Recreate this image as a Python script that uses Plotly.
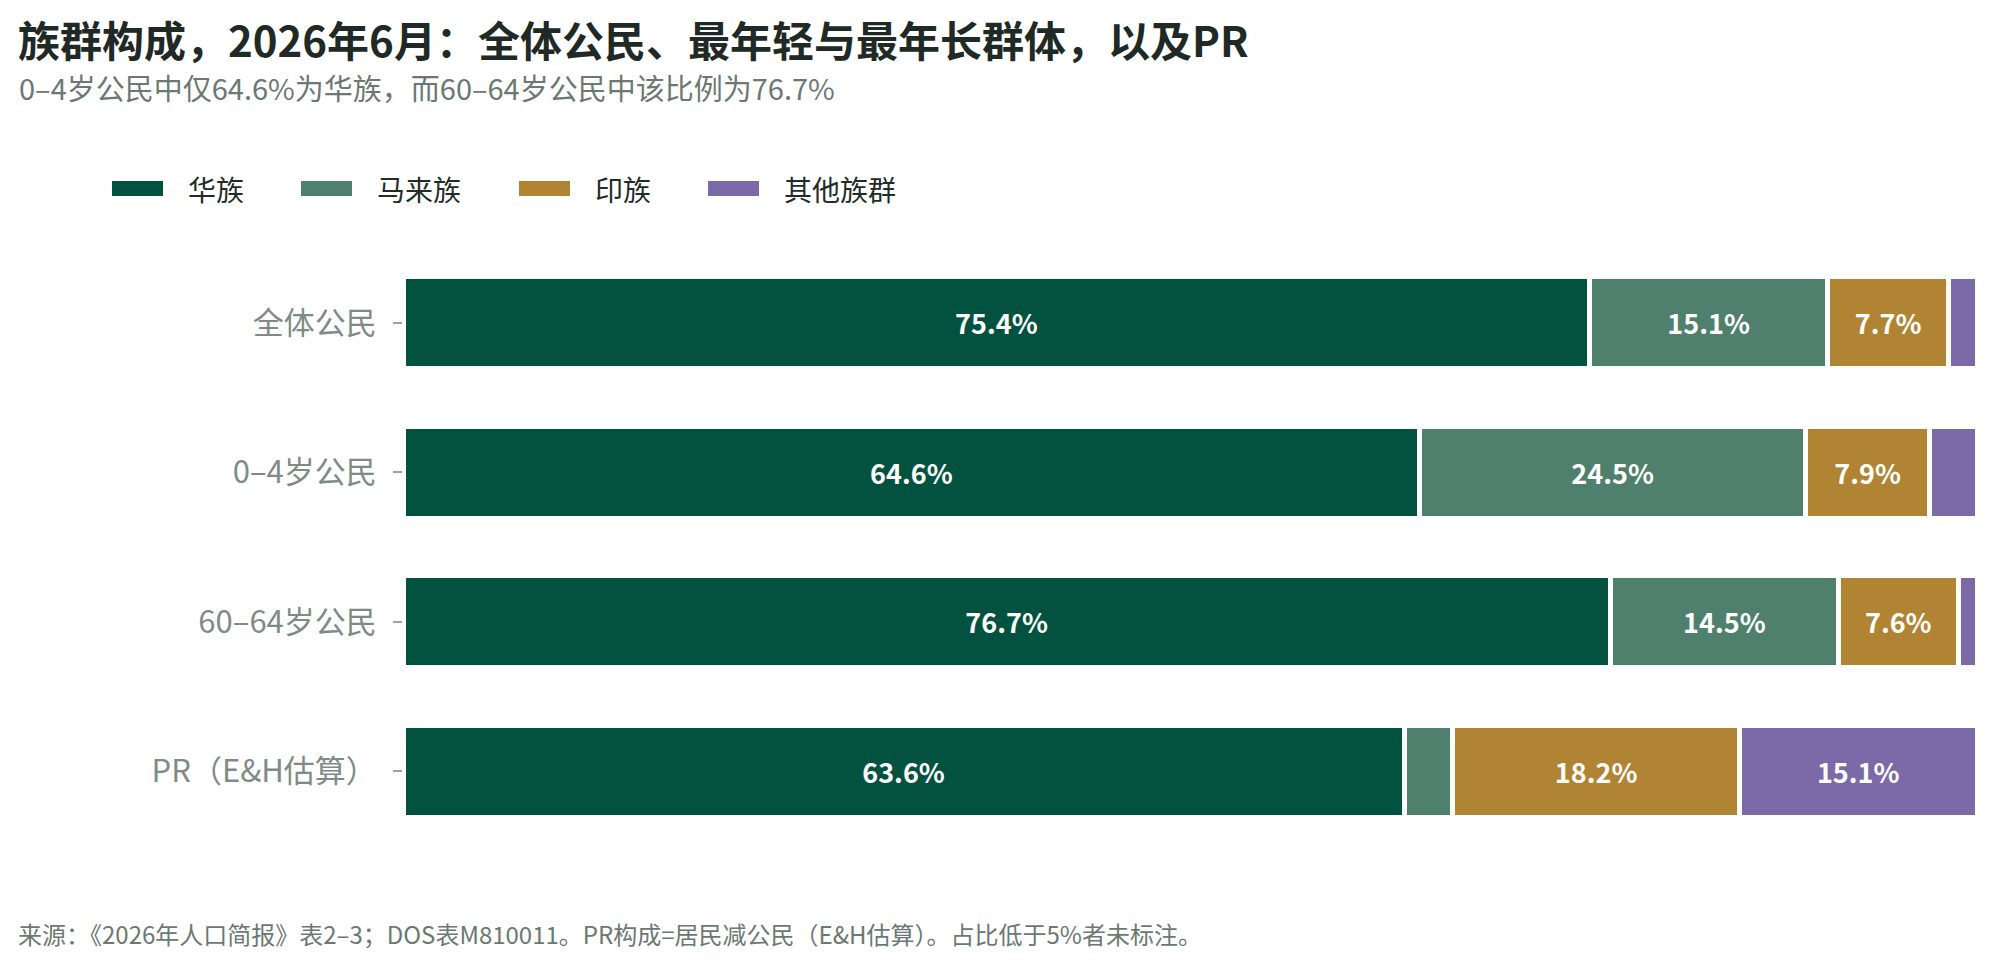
import plotly.graph_objects as go

# data (percent of each group)
groups = ["全体公民", "0–4岁公民", "60–64岁公民", "PR（E&H估算）"]
ethnic = ["华族", "马来族", "印族", "其他族群"]
chinese = [75.4, 64.6, 76.7, 63.6]
malay = [15.1, 24.5, 14.5, 3.1]
indian = [7.7, 7.9, 7.6, 18.2]
others = [1.8, 3.0, 1.2, 15.1]

colors = ["#02523f", "#4f806e", "#b08432", "#7c6aa8"]
FONT = "Noto Sans CJK SC"

# page body has an 8px margin, so the figure is a bit smaller than the window
OFF = 8
W, H = 2000 - 2 * OFF, 960 - 2 * OFF
L, R, T, B = 395, 15, 240, 106


def px_x(px):
    return (px - OFF - L) / (W - L - R)


def px_y(py):
    return (H - B - (py - OFF)) / (H - T - B)


fig = go.Figure()

for name, vals, col in zip(ethnic, [chinese, malay, indian, others], colors):
    labels = [f"{v:.1f}%" if v >= 5 else "" for v in vals]
    fig.add_trace(go.Bar(
        y=groups,
        x=vals,
        name=name,
        orientation="h",
        marker=dict(color=col, line=dict(color="white", width=5)),
        text=labels,
        textposition="inside",
        insidetextanchor="middle",
        textangle=0,
        textfont=dict(family=FONT, size=27, color="white", weight="bold"),
        showlegend=False,
        hoverinfo="skip",
    ))

# legend drawn by hand so the swatches are wide rectangles
legend_x = [112, 301, 519, 708]
shapes = []
annotations = []
for name, col, sx in zip(ethnic, colors, legend_x):
    shapes.append(dict(
        type="rect", xref="paper", yref="paper",
        x0=px_x(sx), x1=px_x(sx + 51), y0=px_y(196), y1=px_y(181),
        fillcolor=col, line=dict(width=0),
    ))
    annotations.append(dict(
        text=name, xref="paper", yref="paper",
        x=px_x(sx + 74), y=px_y(189), xanchor="left", yanchor="middle",
        showarrow=False, font=dict(family=FONT, size=28, color="#222b28"),
    ))

annotations.append(dict(
    text="0–4岁公民中仅64.6%为华族，而60–64岁公民中该比例为76.7%",
    xref="paper", yref="paper", x=px_x(17), y=px_y(87),
    xanchor="left", yanchor="middle", showarrow=False,
    font=dict(family=FONT, size=29, color="#6b7873"),
))
annotations.append(dict(
    text="来源：《2026年人口简报》表2–3；DOS表M810011。PR构成=居民减公民（E&H估算）。占比低于5%者未标注。",
    xref="paper", yref="paper", x=px_x(17), y=px_y(934),
    xanchor="left", yanchor="middle", showarrow=False, borderpad=0,
    font=dict(family=FONT, size=24, color="#6b7873"),
))

fig.update_layout(
    width=W, height=H,
    barmode="stack",
    bargap=0.387,
    plot_bgcolor="white",
    paper_bgcolor="white",
    margin=dict(l=L, r=R, t=T, b=B),
    font=dict(family=FONT),
    title=dict(
        text="<b>族群构成，2026年6月：全体公民、最年轻与最年长群体，以及PR</b>",
        xref="container", x=10 / W, xanchor="left",
        yref="container", y=1 - 34 / H, yanchor="middle",
        font=dict(family=FONT, size=42, color="#1f2925"),
    ),
    xaxis=dict(range=[0, 100], visible=False, fixedrange=True),
    yaxis=dict(
        categoryorder="array", categoryarray=groups, autorange="reversed",
        ticks="outside", ticklen=9, tickcolor="#9aa5a1", tickwidth=1.5,
        ticklabelstandoff=10, showgrid=False, zeroline=False, showline=False,
        tickfont=dict(family=FONT, size=31, color="#7f8b86"),
    ),
    shapes=shapes,
    annotations=annotations,
    uniformtext=dict(mode="show", minsize=10),
)

fig.write_html("out.html")
